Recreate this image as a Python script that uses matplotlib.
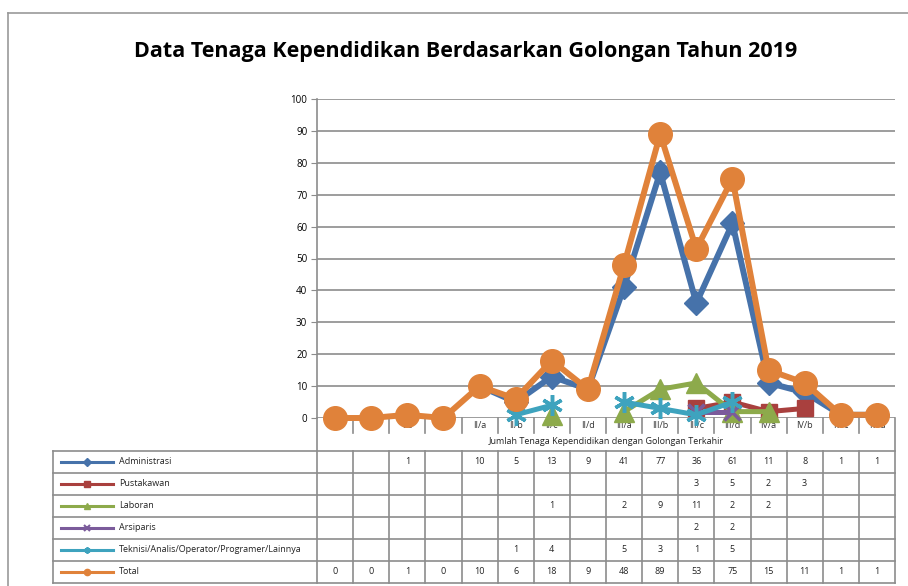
import numpy as np
import matplotlib
matplotlib.use("Agg")
import matplotlib.pyplot as plt
from matplotlib.lines import Line2D

nan = np.nan

# categories (golongan)
golongan = ["I/a", "I/b", "I/c", "I/d", "II/a", "II/b", "II/c", "II/d",
            "III/a", "III/b", "III/c", "III/d", "IV/a", "IV/b", "IV/c", "IV/d"]

administrasi = [nan, nan, 1, nan, 10, 5, 13, 9, 41, 77, 36, 61, 11, 8, 1, 1]
pustakawan = [nan, nan, nan, nan, nan, nan, nan, nan, nan, nan, 3, 5, 2, 3, nan, nan]
laboran = [nan, nan, nan, nan, nan, nan, 1, nan, 2, 9, 11, 2, 2, nan, nan, nan]
arsiparis = [nan, nan, nan, nan, nan, nan, nan, nan, nan, nan, 2, 2, nan, nan, nan, nan]
teknisi = [nan, nan, nan, nan, nan, 1, 4, nan, 5, 3, 1, 5, nan, nan, nan, nan]
total = [0, 0, 1, 0, 10, 6, 18, 9, 48, 89, 53, 75, 15, 11, 1, 1]

series_names = ["Administrasi", "Pustakawan", "Laboran", "Arsiparis",
                "Teknisi/Analis/Operator/Programer/Lainnya", "Total"]
series_values = [administrasi, pustakawan, laboran, arsiparis, teknisi, total]

colors = ["#4672AA", "#A9403E", "#8DAA4B", "#7B5B9B", "#3EA3BE", "#E0823A"]
markers = ["D", "s", "^", "x", (6, 2, 0), "o"]
msizes = [12, 12, 14, 11, 15, 17]
lwidths = [4.3, 3.6, 3.6, 3.6, 3.6, 4.3]

plt.rcParams["font.family"] = ["Open Sans", "DejaVu Sans"]
GRID = "#8C8C8C"

W, H = 908, 586
fig = plt.figure(figsize=(W / 100, H / 100), dpi=100)

# plot area in pixels
x0, x1, y0, y1 = 317, 895, 418, 99
ax = fig.add_axes([x0 / W, 1 - y0 / H, (x1 - x0) / W, (y0 - y1) / H])

def fx(px):
    return (px - x0) / (x1 - x0)

def fy(py):
    return (y0 - py) / (y0 - y1)

xs = np.arange(len(golongan))
for name, vals, c, m, ms, lw in zip(series_names, series_values, colors, markers, msizes, lwidths):
    v = np.array(vals, dtype=float)
    mew = 2.5 if m in ("x", (6, 2, 0)) else 1
    ax.plot(xs, v, color=c, lw=lw, marker=m, markersize=ms, markeredgewidth=mew,
            markeredgecolor=c, clip_on=False, zorder=3)

ax.set_xlim(-0.5, len(golongan) - 0.5)
ax.set_ylim(0, 100)
ax.set_yticks(range(0, 101, 10))
ax.set_xticks([])
ax.grid(axis="y", color=GRID, lw=1.2)
ax.set_axisbelow(True)
for s in ["top", "right", "bottom"]:
    ax.spines[s].set_visible(False)
ax.spines["left"].set_color(GRID)
ax.spines["left"].set_linewidth(1.2)
ax.tick_params(axis="y", length=4, color=GRID, labelsize=7, pad=3)

tr = ax.get_xaxis_transform()
ta = ax.transAxes
lk = dict(color=GRID, lw=1.2, transform=ta, clip_on=False, zorder=1)

# category label row
for i, g in enumerate(golongan):
    ax.text(i, fy(426), g, transform=tr, ha="center", va="center", fontsize=6.5,
            color="#333333", zorder=1, clip_on=False)
for i in range(len(golongan) - 1):
    ax.add_line(Line2D([fx(x0 + (i + 1) * (x1 - x0) / 16)] * 2, [fy(418), fy(433)], **lk))
ax.text(0.5, fy(441), "Jumlah Tenaga Kependidikan dengan Golongan Terkahir",
        transform=ta, ha="center", va="center", fontsize=6.5, color="#222222", clip_on=False)

# left / right borders of the table block
ax.add_line(Line2D([0, 0], [fy(418), fy(583)], **lk))
ax.add_line(Line2D([1, 1], [fy(418), fy(583)], **lk))

# data table
row_top = 451
row_h = 22
tab_left = 53
nrows = len(series_names)
for r in range(nrows + 1):
    yy = fy(row_top + r * row_h)
    ax.add_line(Line2D([fx(tab_left), 1], [yy, yy], **lk))
ax.add_line(Line2D([fx(tab_left)] * 2, [fy(row_top), fy(row_top + nrows * row_h)], **lk))
for i in range(len(golongan) - 1):
    xx = fx(x0 + (i + 1) * (x1 - x0) / 16)
    ax.add_line(Line2D([xx, xx], [fy(row_top), fy(row_top + nrows * row_h)], **lk))

for r, (name, vals, c, m) in enumerate(zip(series_names, series_values, colors, markers)):
    yc = fy(row_top + r * row_h + row_h / 2)
    mew = 1.5 if m in ("x", (6, 2, 0)) else 1
    ax.add_line(Line2D([fx(61), fx(113)], [yc, yc], color=c, lw=2.2, transform=ta,
                       clip_on=False, zorder=2))
    ax.add_line(Line2D([fx(87)], [yc], color=c, marker=m, markersize=4.5, mew=mew,
                       transform=ta, clip_on=False, zorder=2))
    ax.text(fx(119), yc, name, transform=ta, ha="left", va="center", fontsize=6.5,
            color="#222222", clip_on=False)
    for i, v in enumerate(vals):
        if not np.isnan(v):
            ax.text(i, yc, f"{int(v)}", transform=tr, ha="center", va="center",
                    fontsize=6.5, color="#222222", clip_on=False)

fig.suptitle("Data Tenaga Kependidikan Berdasarkan Golongan Tahun 2019",
             x=466 / W, y=1 - 51 / H, ha="center", va="center",
             fontsize=15.5, fontweight="bold")

# outer chart border (left and top)
fig.add_artist(Line2D([8 / W, 8 / W], [0, 1 - 13 / H], color="#999999", lw=1.2,
                      transform=fig.transFigure))
fig.add_artist(Line2D([8 / W, 1], [1 - 13 / H, 1 - 13 / H], color="#999999", lw=1.2,
                      transform=fig.transFigure))

fig.savefig("out.png", dpi=100)
